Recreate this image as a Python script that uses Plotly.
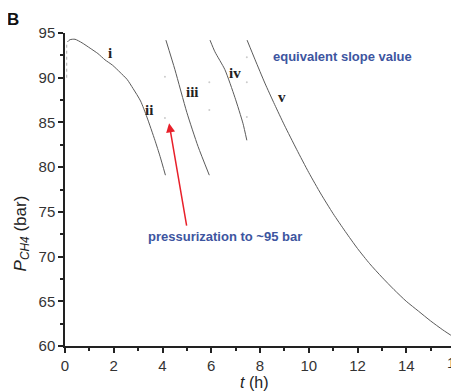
import plotly.graph_objects as go

# Segment i/ii
t1 = [0.1, 0.2, 0.41, 0.7, 1.03, 1.35, 1.64, 1.95, 2.26, 2.55, 2.79, 3.1, 3.36, 3.69, 3.9, 4.12]
p1 = [94.0, 94.25, 94.3, 93.9, 93.3, 92.7, 92.0, 91.4, 90.6, 89.8, 88.8, 87.4, 85.6, 83.0, 81.2, 79.1]
# Segment iii
t3 = [4.14, 4.51, 5.0, 5.46, 5.92]
p3 = [94.2, 90.9, 86.1, 82.3, 79.1]
# Segment iv
t4 = [5.95, 6.15, 6.56, 6.97, 7.3, 7.46]
p4 = [94.2, 92.9, 90.9, 87.8, 84.9, 83.0]
# Segment v
t5 = [7.47, 7.8, 8.2, 8.6, 9.0, 9.5, 10.0, 10.5, 11.0, 11.5, 12.0, 12.5, 13.0, 13.5, 14.0, 14.5, 15.0, 15.5, 16.0]
p5 = [94.2, 92.0, 89.4, 87.0, 84.7, 82.0, 79.4, 77.0, 74.8, 72.8, 70.9, 69.2, 67.7, 66.3, 65.0, 63.9, 62.8, 61.8, 60.9]
# Start-up rise at t = 0
t0 = [0.07, 0.07]
p0 = [90.0, 94.0]
# Faint points during repressurization
tr = [4.1, 4.1, 5.92, 5.92, 7.46, 7.46, 7.46]
pr = [90.1, 85.5, 89.5, 86.4, 92.3, 89.5, 85.6]

segment_labels = ["i", "ii", "iii", "iv", "v"]
label_t = [1.85, 3.45, 5.25, 6.97, 8.9]
label_p = [92.8, 86.4, 88.4, 90.5, 87.8]

line_color = "#5a5a5a"
fig = go.Figure()
for tx, px in [(t1, p1), (t3, p3), (t4, p4), (t5, p5)]:
    fig.add_trace(go.Scatter(x=tx, y=px, mode="lines",
                             line=dict(color=line_color, width=1, shape="spline", smoothing=0.6),
                             showlegend=False, hoverinfo="skip"))
fig.add_trace(go.Scatter(x=t0, y=p0, mode="lines", line=dict(color="#aaaaaa", width=1, dash="dot"),
                         showlegend=False))
fig.add_trace(go.Scatter(x=tr, y=pr, mode="markers", marker=dict(color="#cccccc", size=2),
                         showlegend=False))

for s, tx, py in zip(segment_labels, label_t, label_p):
    fig.add_annotation(x=tx, y=py, text="<b>%s</b>" % s, showarrow=False,
                       font=dict(family="Liberation Serif", size=15, color="#222"))

fig.add_annotation(x=11.4, y=92.4, text="<b>equivalent slope value</b>", showarrow=False,
                   font=dict(family="Liberation Sans", size=13, color="#3d55a0"))
fig.add_annotation(x=6.55, y=72.2, text="<b>pressurization to ~95 bar</b>", showarrow=False,
                   font=dict(family="Liberation Sans", size=13, color="#3d55a0"))
fig.add_annotation(x=4.27, y=84.9, ax=5.0, ay=73.3, axref="x", ayref="y", text="",
                   showarrow=True, arrowhead=2, arrowsize=1.2, arrowwidth=1.5, arrowcolor="#e8202a")

# Last x tick label (partly cut at the right edge, as in the reference)
fig.add_annotation(x=16, y=-0.053, xref="x", yref="paper", text="16", showarrow=False,
                   xanchor="center", yanchor="middle",
                   font=dict(family="Liberation Sans", size=15, color="#333"))

# Panel letter and axis titles (paper coords: plot area is 390 x 313 px)
fig.add_annotation(x=-0.133, y=1.042, xref="paper", yref="paper", text="<b>B</b>", showarrow=False,
                   xanchor="center", yanchor="middle",
                   font=dict(family="Liberation Sans", size=17, color="#111"))
fig.add_annotation(x=0.485, y=-0.118, xref="paper", yref="paper", text="<i>t</i> (h)", showarrow=False,
                   xanchor="center", yanchor="middle",
                   font=dict(family="Liberation Sans", size=16, color="#222"))
fig.add_annotation(x=-0.11, y=0.36, xref="paper", yref="paper",
                   text="<i>P</i><sub><i>CH4</i></sub> (bar)", showarrow=False, textangle=-90,
                   xanchor="center", yanchor="middle",
                   font=dict(family="Liberation Sans", size=17, color="#222"))

# The page body adds an 8 px offset, so the figure is sized/margined to compensate
fig.update_layout(
    width=451, height=383, margin=dict(l=57, r=4, t=25, b=45, autoexpand=False),
    plot_bgcolor="white", paper_bgcolor="white",
    xaxis=dict(range=[0, 16], dtick=2, showgrid=False, zeroline=False, showline=True, linecolor="#222",
               linewidth=1.5, ticks="outside", ticklen=5, tickcolor="#222", tickwidth=1.5, automargin=False,
               minor=dict(dtick=1, ticks="outside", ticklen=3, tickcolor="#222"),
               tickfont=dict(family="Liberation Sans", size=15, color="#333")),
    yaxis=dict(range=[60, 95], dtick=5, showgrid=False, zeroline=False, showline=True, linecolor="#222",
               linewidth=1.5, ticks="outside", ticklen=5, tickcolor="#222", tickwidth=1.5, automargin=False,
               minor=dict(dtick=2.5, ticks="outside", ticklen=3, tickcolor="#222"),
               tickfont=dict(family="Liberation Sans", size=15, color="#333")),
)
fig.write_html("out.html")
